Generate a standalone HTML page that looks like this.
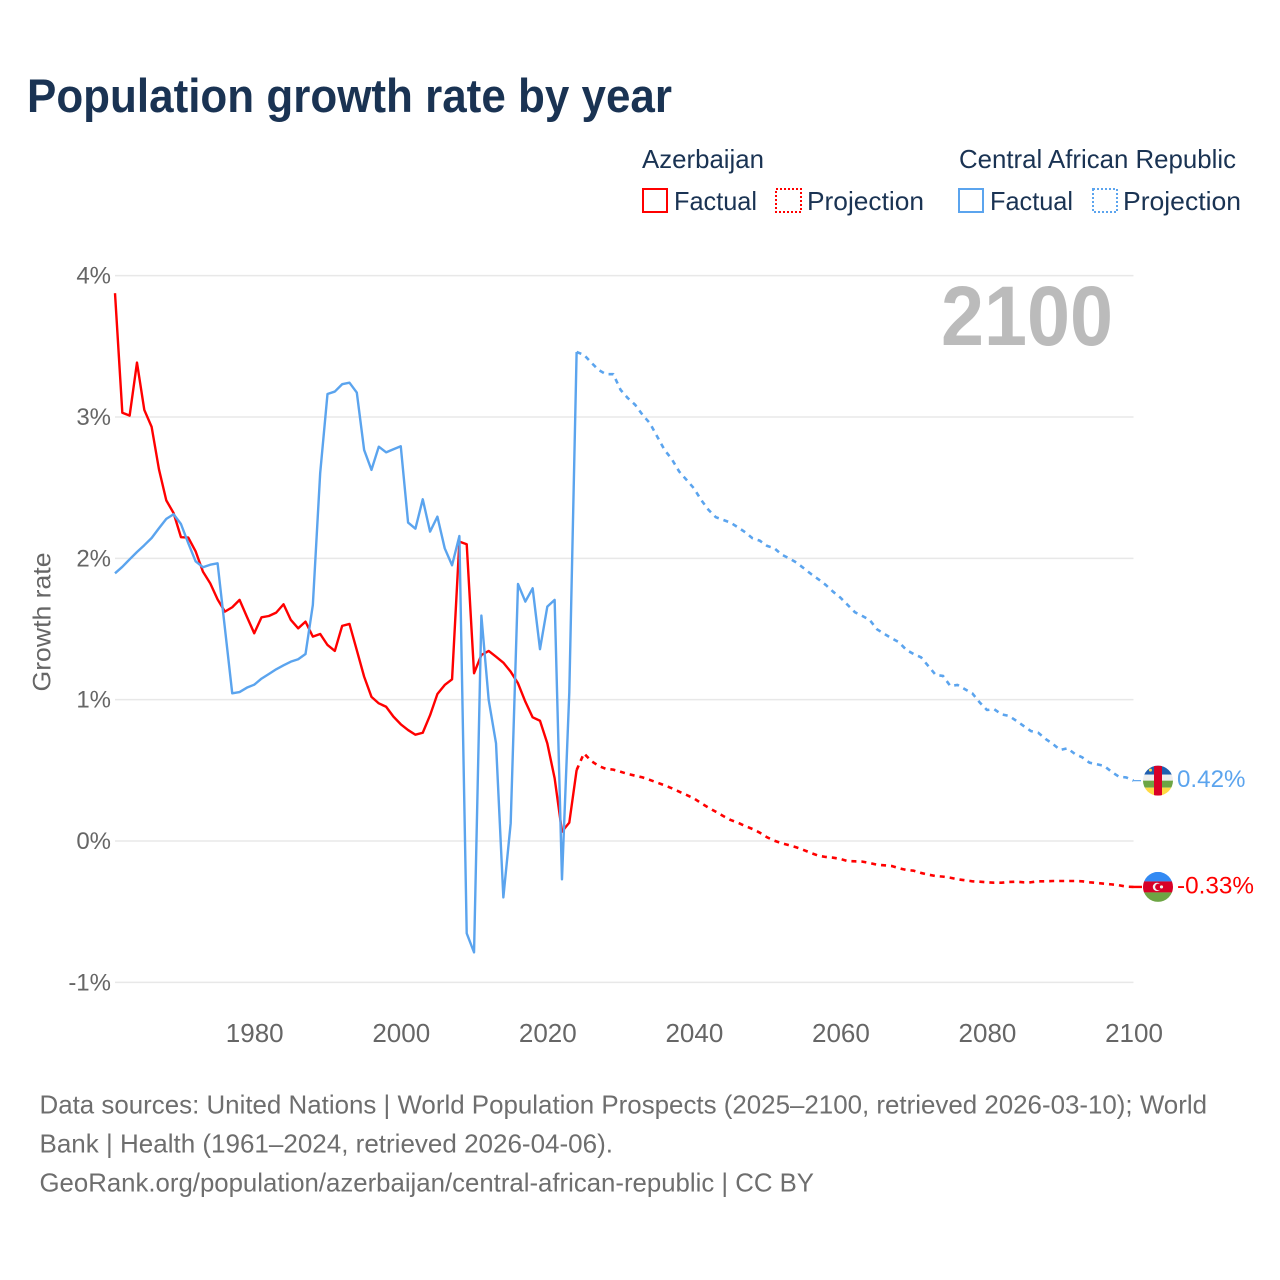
<!DOCTYPE html>
<html lang="en">
<head>
<meta charset="utf-8">
<title>Population growth rate by year</title>
<style>
html,body{margin:0;padding:0;background:#fff;width:1280px;height:1280px;overflow:hidden}
svg{display:block;font-family:"Liberation Sans",sans-serif}
</style>
</head>
<body>
<svg id="chart" xmlns="http://www.w3.org/2000/svg" width="1280" height="1280" viewBox="0 0 1280 1280">
  <defs>
    <clipPath id="clip-flag"><circle cx="0" cy="0" r="15"/></clipPath>
  </defs>
  <rect x="0" y="0" width="1280" height="1280" fill="#fff"/>
  <text x="27" y="112" font-size="47" font-weight="700" fill="#1a3353" textLength="645" lengthAdjust="spacingAndGlyphs">Population growth rate by year</text>

  <g font-size="26" fill="#1a3353">
    <text x="642" y="168" textLength="122" lengthAdjust="spacingAndGlyphs">Azerbaijan</text>
    <text x="959" y="168" textLength="277" lengthAdjust="spacingAndGlyphs">Central African Republic</text>
    <g>
      <rect x="643" y="189" width="24" height="23" fill="none" stroke="#ff0000" stroke-width="2"/>
      <text x="674" y="210" textLength="83" lengthAdjust="spacingAndGlyphs">Factual</text>
    </g>
    <g>
      <rect x="776" y="189" width="25" height="23" fill="none" stroke="#ff0000" stroke-width="2" stroke-dasharray="2 2"/>
      <text x="807" y="210" textLength="117" lengthAdjust="spacingAndGlyphs">Projection</text>
    </g>
    <g>
      <rect x="959" y="189" width="24" height="23" fill="none" stroke="#5ba4ee" stroke-width="2"/>
      <text x="990" y="210" textLength="83" lengthAdjust="spacingAndGlyphs">Factual</text>
    </g>
    <g>
      <rect x="1093" y="189" width="24" height="23" fill="none" stroke="#5ba4ee" stroke-width="2" stroke-dasharray="2 2"/>
      <text x="1123" y="210" textLength="118" lengthAdjust="spacingAndGlyphs">Projection</text>
    </g>
  </g>

  <g id="grid"></g>
  <g id="y-ticks"></g>
  <g id="x-ticks"></g>
  <text transform="translate(50.5,622) rotate(-90)" text-anchor="middle" font-size="25" fill="#666" textLength="139" lengthAdjust="spacingAndGlyphs">Growth rate</text>

  <text x="941" y="345" font-size="84" font-weight="700" fill="#bbbbbb" textLength="172" lengthAdjust="spacingAndGlyphs">2100</text>

  <g id="series"></g>

  <g id="flag-caf">
    <g clip-path="url(#clip-flag)">
      <rect x="-15" y="-15" width="30" height="9" fill="#1f5fb0"/>
      <rect x="-15" y="-6" width="30" height="6" fill="#eeeeee"/>
      <rect x="-15" y="0" width="30" height="7" fill="#6da544"/>
      <rect x="-15" y="7" width="30" height="8" fill="#ffda44"/>
      <rect x="-4" y="-15" width="8" height="30" fill="#d80027"/>
      <circle cx="-7.5" cy="-10.5" r="1.5" fill="#ffda44"/>
    </g>
  </g>
  <g id="flag-aze">
    <g clip-path="url(#clip-flag)">
      <rect x="-15" y="-15" width="30" height="9.5" fill="#338af3"/>
      <rect x="-15" y="-5.5" width="30" height="11" fill="#d80027"/>
      <rect x="-15" y="5.5" width="30" height="9.5" fill="#6da544"/>
      <circle cx="-1" cy="0" r="4.2" fill="#f0f0f0"/>
      <circle cx="0.4" cy="0" r="3.3" fill="#d80027"/>
      <circle cx="3.5" cy="0" r="1.6" fill="#f0f0f0"/>
    </g>
  </g>
  <text id="value-caf" x="1177" font-size="24" fill="#5ba4ee" textLength="68.5" lengthAdjust="spacingAndGlyphs"></text>
  <text id="value-aze" x="1177" font-size="24" fill="#ff0000" textLength="77" lengthAdjust="spacingAndGlyphs"></text>

  <g font-size="26" fill="#6e6e6e">
    <text x="39.5" y="1113.5" textLength="1167.5" lengthAdjust="spacingAndGlyphs">Data sources: United Nations | World Population Prospects (2025–2100, retrieved 2026-03-10); World</text>
    <text x="39.5" y="1152.5" textLength="573.5" lengthAdjust="spacingAndGlyphs">Bank | Health (1961–2024, retrieved 2026-04-06).</text>
    <text x="39.5" y="1191.5" textLength="774.5" lengthAdjust="spacingAndGlyphs">GeoRank.org/population/azerbaijan/central-african-republic | CC BY</text>
  </g>
</svg>
<script>
const firstYear = 1961;
const lastYear = 2100;
const yTickValues = [-1, 0, 1, 2, 3, 4];
const yTickLabels = ['-1%', '0%', '1%', '2%', '3%', '4%'];
const xTickValues = [1980, 2000, 2020, 2040, 2060, 2080, 2100];
const xTickLabels = ['1980', '2000', '2020', '2040', '2060', '2080', '2100'];
const azeEndLabel = '-0.33%';
const cafEndLabel = '0.42%';

// Azerbaijan factual, 1961-2024
const azeFactual = [3.876,3.03,3.01,3.385,3.05,2.93,2.63,2.41,2.32,2.15,2.147,2.05,1.906,1.823,1.71,1.623,1.654,1.706,1.587,1.47,1.583,1.592,1.616,1.675,1.564,1.505,1.552,1.446,1.465,1.387,1.345,1.522,1.536,1.35,1.163,1.02,.974,.95,.88,.826,.785,.752,.766,.89,1.04,1.104,1.144,2.118,2.10,1.187,1.316,1.345,1.304,1.262,1.198,1.116,.986,.875,.851,.691,.444,.066,.13,.502];
// Azerbaijan projection, 2025-2100
const azeProjection = [.62,.566,.531,.51,.505,.49,.474,.462,.45,.432,.413,.394,.373,.349,.326,.302,.267,.236,.207,.177,.149,.13,.106,.085,.059,.026,.002,-.016,-.03,-.045,-.064,-.085,-.104,-.113,-.118,-.127,-.142,-.144,-.146,-.156,-.168,-.172,-.177,-.193,-.205,-.21,-.226,-.238,-.248,-.252,-.26,-.271,-.278,-.285,-.288,-.292,-.295,-.295,-.29,-.288,-.292,-.292,-.285,-.285,-.283,-.283,-.283,-.283,-.285,-.292,-.297,-.302,-.307,-.313,-.323,-.325];
// Central African Republic factual, 1961-2024
const cafFactual = [1.894,1.94,1.993,2.045,2.093,2.144,2.213,2.279,2.312,2.243,2.107,1.979,1.937,1.955,1.965,1.505,1.045,1.054,1.085,1.106,1.149,1.182,1.215,1.243,1.269,1.286,1.323,1.67,2.602,3.163,3.18,3.232,3.243,3.173,2.767,2.626,2.79,2.75,2.772,2.793,2.253,2.21,2.418,2.189,2.295,2.071,1.951,2.158,-.653,-.788,1.595,.998,.691,-.399,.125,1.819,1.694,1.788,1.357,1.658,1.706,-.271,1.05,3.46];
// Central African Republic projection, 2025-2100
const cafProjection = [3.44,3.385,3.333,3.303,3.303,3.192,3.133,3.086,3.015,2.956,2.861,2.767,2.701,2.614,2.555,2.496,2.413,2.343,2.291,2.272,2.253,2.22,2.185,2.142,2.125,2.088,2.071,2.026,2.0,1.97,1.93,1.889,1.852,1.812,1.764,1.722,1.67,1.618,1.592,1.564,1.498,1.465,1.434,1.406,1.352,1.323,1.3,1.238,1.175,1.168,1.097,1.104,1.074,1.045,.981,.927,.932,.896,.885,.851,.814,.778,.766,.722,.686,.644,.656,.616,.592,.554,.543,.531,.49,.455,.45,.427];

const NS = 'http://www.w3.org/2000/svg';
const plotLeft = 115;
const plotRight = 1133.5;
function xScale(year) {
  return plotLeft + (year - firstYear) * (plotRight - plotLeft) / (lastYear - firstYear);
}
function yScale(value) {
  return 841 - value * 141.33;
}
function pathFrom(values, startYear) {
  return values.map(function (v, i) {
    return (i ? 'L' : 'M') + xScale(startYear + i).toFixed(2) + ' ' + yScale(v).toFixed(2);
  }).join('');
}
function makeLine(d, color, dashed) {
  const p = document.createElementNS(NS, 'path');
  p.setAttribute('d', d);
  p.setAttribute('fill', 'none');
  p.setAttribute('stroke', color);
  p.setAttribute('stroke-width', dashed ? '2.6' : '2.4');
  p.setAttribute('stroke-linejoin', 'round');
  if (dashed) p.setAttribute('stroke-dasharray', '5 5');
  document.getElementById('series').appendChild(p);
  return p;
}

const gridGroup = document.getElementById('grid');
const yTickGroup = document.getElementById('y-ticks');
yTickValues.forEach(function (v, i) {
  const line = document.createElementNS(NS, 'line');
  
  
  line.setAttribute('x1', plotLeft);
  line.setAttribute('x2', plotRight);
  line.setAttribute('y1', yScale(v));
  line.setAttribute('y2', yScale(v));
  line.setAttribute('stroke', '#e8e8e8');
  line.setAttribute('stroke-width', '1.5');
  gridGroup.appendChild(line);
  const label = document.createElementNS(NS, 'text');
  
  
  label.setAttribute('x', 111);
  label.setAttribute('y', yScale(v) + 8);
  label.setAttribute('text-anchor', 'end');
  label.setAttribute('font-size', '24');
  label.setAttribute('fill', '#666');
  label.textContent = yTickLabels[i];
  yTickGroup.appendChild(label);
});

const xTickGroup = document.getElementById('x-ticks');
xTickValues.forEach(function (v, i) {
  const label = document.createElementNS(NS, 'text');
  
  
  label.setAttribute('x', xScale(v) + 0.5);
  label.setAttribute('y', 1042);
  label.setAttribute('text-anchor', 'middle');
  label.setAttribute('font-size', '26');
  label.setAttribute('fill', '#666');
  label.textContent = xTickLabels[i];
  xTickGroup.appendChild(label);
});

const azeFactualLine = makeLine(pathFrom(azeFactual, firstYear), '#ff0000', false);



const azeLast = azeFactual[azeFactual.length - 1];
const azeProjectionLine = makeLine(pathFrom([azeLast].concat(azeProjection), firstYear + azeFactual.length - 1), '#ff0000', true);



const cafFactualLine = makeLine(pathFrom(cafFactual, firstYear), '#5ba4ee', false);



const cafLast = cafFactual[cafFactual.length - 1];
const cafProjectionLine = makeLine(pathFrom([cafLast].concat(cafProjection), firstYear + cafFactual.length - 1), '#5ba4ee', true);



const azeEndY = yScale(azeProjection[azeProjection.length - 1]);
const cafEndY = yScale(cafProjection[cafProjection.length - 1]);

const azeLeader = makeLine('M' + plotRight + ' ' + azeEndY + 'H1142', '#ff0000', false);


const cafLeader = makeLine('M' + plotRight + ' ' + cafEndY + 'H1141', '#5ba4ee', false);


cafLeader.setAttribute('stroke-width', '1.2');

document.getElementById('flag-aze').setAttribute('transform', 'translate(1158,' + azeEndY + ')');
document.getElementById('flag-caf').setAttribute('transform', 'translate(1158,' + cafEndY + ')');
const azeValue = document.getElementById('value-aze');
azeValue.setAttribute('y', azeEndY + 6.5);
azeValue.textContent = azeEndLabel;
const cafValue = document.getElementById('value-caf');
cafValue.setAttribute('y', cafEndY + 6.5);
cafValue.textContent = cafEndLabel;
</script>
</body>
</html>
